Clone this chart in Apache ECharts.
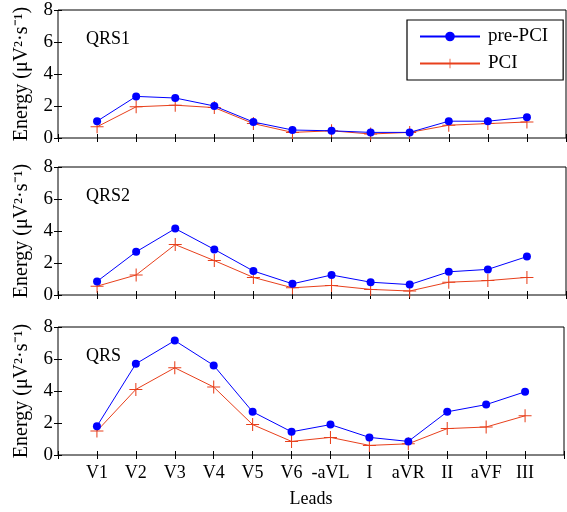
<!DOCTYPE html>
<html>
<head>
<meta charset="utf-8">
<script src="https://cdn.jsdelivr.net/npm/echarts@6/dist/echarts.min.js"></script>
<style>
  html, body { margin: 0; padding: 0; background: #fff; }
  #chart { width: 567px; height: 512px; }
</style>
</head>
<body>
<div id="chart"></div>
<script>
  var leads = ['V1', 'V2', 'V3', 'V4', 'V5', 'V6', '-aVL', 'I', 'aVR', 'II', 'aVF', 'III'];
  var panelNames = ['QRS1', 'QRS2', 'QRS'];
  var yTicks = [0, 2, 4, 6, 8];

  // 各面板数据 (pre-PCI / PCI)
  var prePCI1 = [1.05, 2.6, 2.5, 2.0, 1.0, 0.5, 0.45, 0.35, 0.35, 1.05, 1.05, 1.3];
  var pci1    = [0.7, 1.95, 2.05, 1.9, 0.9, 0.35, 0.45, 0.25, 0.35, 0.8, 0.9, 1.0];
  var prePCI2 = [0.85, 2.7, 4.15, 2.85, 1.5, 0.7, 1.25, 0.8, 0.65, 1.45, 1.6, 2.4];
  var pci2    = [0.55, 1.25, 3.15, 2.15, 1.1, 0.45, 0.6, 0.35, 0.25, 0.8, 0.9, 1.1];
  var prePCI3 = [1.8, 5.7, 7.15, 5.6, 2.7, 1.45, 1.9, 1.1, 0.85, 2.7, 3.15, 3.95];
  var pci3    = [1.5, 4.1, 5.45, 4.25, 1.9, 0.85, 1.1, 0.6, 0.7, 1.65, 1.75, 2.45];

  var preData = [prePCI1, prePCI2, prePCI3];
  var pciData = [pci1, pci2, pci3];

  var FONT = '"Liberation Serif", "Times New Roman", serif';
  var BLUE = '#0000ff', RED = '#e8401c';
  var PLUS = 'path://M4.6,0h0.8v4.6h4.6v0.8h-4.6v4.6h-0.8v-4.6h-4.6v-0.8h4.6z';
  var tops = [10, 167, 327];

  function pairs(arr) {
    return arr.map(function (v, i) { return [i + 1, v]; });
  }

  var chart = echarts.init(document.getElementById('chart'));
  var grids = [], xAxes = [], yAxes = [], series = [], titles = [];

  tops.forEach(function (top, p) {
    grids.push({ left: 58, width: 508, top: top, height: 128, show: true, borderColor: '#000', borderWidth: 1 });
    var last = p === 2;
    // 下轴
    xAxes.push({
      type: 'value', gridIndex: p, min: 0, max: 13, interval: 1,
      axisLine: { show: false }, splitLine: { show: false },
      axisTick: { inside: true, length: 4, lineStyle: { color: '#000' } },
      axisLabel: {
        show: last, color: '#000', fontFamily: FONT, fontSize: 18, margin: 9,
        formatter: function (v) { return leads[v - 1] || ''; }
      },
      name: last ? 'Leads' : '', nameLocation: 'middle', nameGap: 35,
      nameTextStyle: { color: '#000', fontFamily: FONT, fontSize: 18 }
    });
    // 上轴 (只画刻度)
    xAxes.push({
      type: 'value', gridIndex: p, position: 'top', min: 0, max: 13, interval: 1,
      axisLine: { show: false }, splitLine: { show: false }, axisLabel: { show: false },
      axisTick: { inside: true, length: 4, lineStyle: { color: '#000' } }
    });
    yAxes.push({
      type: 'value', gridIndex: p, min: yTicks[0], max: yTicks[yTicks.length - 1], interval: 2,
      axisLine: { show: false }, splitLine: { show: false },
      axisTick: { inside: true, length: 4, lineStyle: { color: '#000' } },
      axisLabel: { color: '#000', fontFamily: FONT, fontSize: 19, margin: 5 },
      name: 'Energy (\u03bcV\u00b2\u00b7s\u207b\u00b9)', nameLocation: 'middle', nameGap: 26, nameRotate: 90,
      nameTextStyle: { color: '#000', fontFamily: FONT, fontSize: 20 }
    });
    yAxes.push({
      type: 'value', gridIndex: p, position: 'right', min: 0, max: 8, interval: 2,
      axisLine: { show: false }, splitLine: { show: false }, axisLabel: { show: false },
      axisTick: { inside: true, length: 4, lineStyle: { color: '#000' } }
    });
    titles.push({
      text: panelNames[p], left: 81, top: top + 15,
      textStyle: { color: '#000', fontFamily: FONT, fontSize: 18, fontWeight: 'normal' }
    });
    series.push({
      name: 'pre-PCI', type: 'line', xAxisIndex: p * 2, yAxisIndex: p * 2,
      data: pairs(preData[p]), symbol: 'circle', symbolSize: 8,
      lineStyle: { color: BLUE, width: 1 }, itemStyle: { color: BLUE },
      animation: false, z: 3
    });
    series.push({
      name: 'PCI', type: 'line', xAxisIndex: p * 2, yAxisIndex: p * 2,
      data: pairs(pciData[p]), symbol: PLUS, symbolSize: 13,
      lineStyle: { color: RED, width: 1 }, itemStyle: { color: RED },
      animation: false, z: 2
    });
  });

  chart.setOption({
    backgroundColor: '#fff',
    animation: false,
    title: titles,
    grid: grids,
    xAxis: xAxes,
    yAxis: yAxes,
    legend: {
      data: ['pre-PCI', 'PCI'],
      orient: 'vertical', left: 407, top: 20,
      padding: [7, 15, 7, 12], itemGap: 8, itemWidth: 60, itemHeight: 12,
      backgroundColor: '#fff', borderColor: '#000', borderWidth: 1.2,
      textStyle: { color: '#000', fontFamily: FONT, fontSize: 19, padding: [0, 0, 0, 3] }
    },
    series: series
  });
</script>
</body>
</html>
